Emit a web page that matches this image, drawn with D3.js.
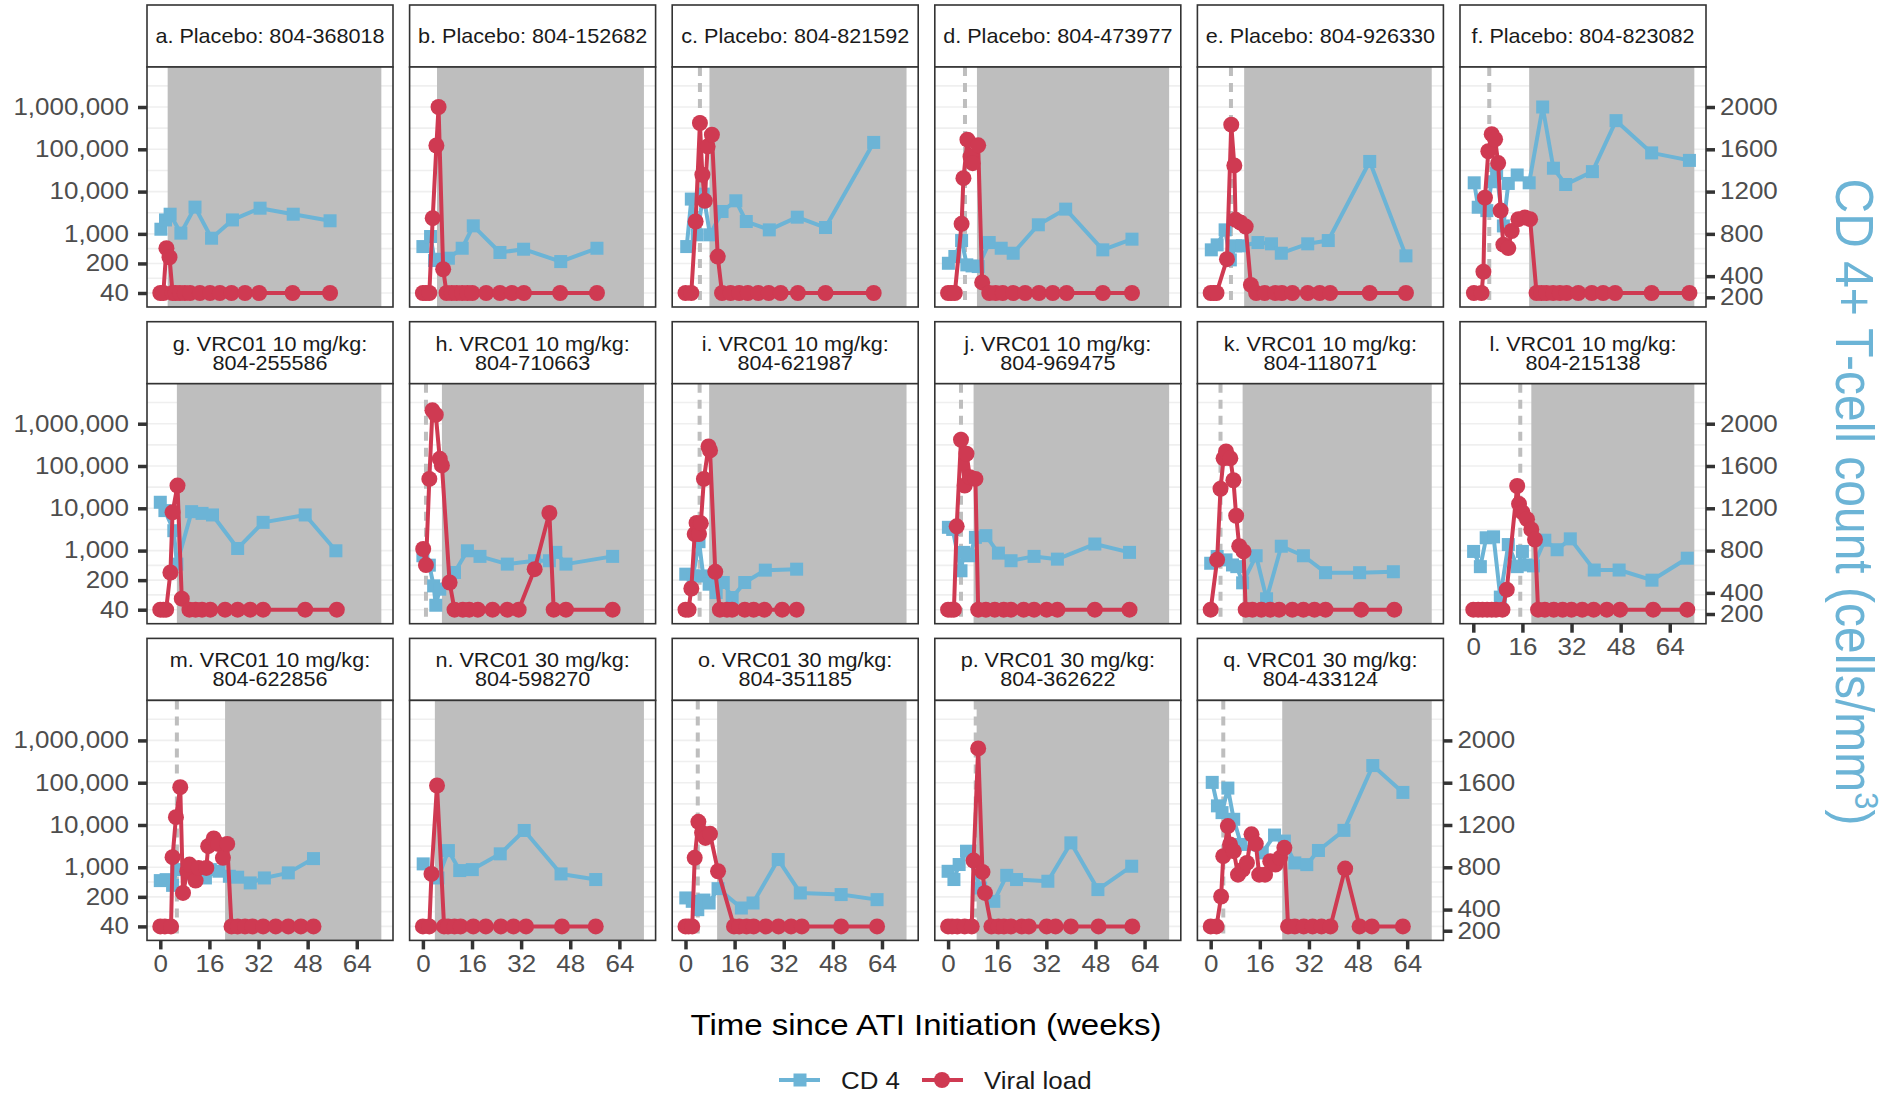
<!DOCTYPE html>
<html>
<head>
<meta charset="utf-8">
<script src="https://cdn.jsdelivr.net/npm/d3@7"></script>
<style>
  body { margin: 0; background: #fff; }
  svg { display: block; font-family: "Liberation Sans", Arial, Helvetica, sans-serif; }
</style>
</head>
<body>
<svg id="chart" width="1885" height="1093"></svg>
<script>
// ---- data (weeks, value) ----
const panelTitles = [
  ["a. Placebo: 804-368018"], ["b. Placebo: 804-152682"], ["c. Placebo: 804-821592"],
  ["d. Placebo: 804-473977"], ["e. Placebo: 804-926330"], ["f. Placebo: 804-823082"],
  ["g. VRC01 10 mg/kg:", "804-255586"], ["h. VRC01 10 mg/kg:", "804-710663"],
  ["i. VRC01 10 mg/kg:", "804-621987"], ["j. VRC01 10 mg/kg:", "804-969475"],
  ["k. VRC01 10 mg/kg:", "804-118071"], ["l. VRC01 10 mg/kg:", "804-215138"],
  ["m. VRC01 10 mg/kg:", "804-622856"], ["n. VRC01 30 mg/kg:", "804-598270"],
  ["o. VRC01 30 mg/kg:", "804-351185"], ["p. VRC01 30 mg/kg:", "804-362622"],
  ["q. VRC01 30 mg/kg:", "804-433124"]
];
// start of the shaded period (weeks); it ends at week 72
const grayStart = [2.4, 4.6, 7.8, 9.4, 10.9, 18.2, 5.4, 6.2, 7.7, 8.3, 10.4, 18.9, 21.1, 3.9, 10.3, 9.3, 23.3];
const grayEnd = 72;
// dashed reference line (weeks), null where it is hidden
const dashedAt = [null, null, 4.7, 5.5, 6.6, 5.2, null, 1.0, 4.6, 4.2, 3.2, 15.3, 5.4, null, 4.0, 9.0, 4.1];

const vlTicks = [40, 200, 1000, 10000, 100000, 1000000];
const cd4Ticks = [200, 400, 800, 1200, 1600, 2000];
const weekTicks = [0, 16, 32, 48, 64];

const vl_a = [[0,40],[1,40],[2,460],[3,280],[4,40],[5,40],[6.4,40],[8,40],[9.7,40],[12.9,40],[16.2,40],[19.4,40],[23.2,40],[27.6,40],[32.2,40],[43.1,40],[55.3,40]];
const cd4_a = [[0.2,844],[1.7,932],[3.2,986],[6.7,807],[11.3,1053],[16.7,759],[23.5,932],[32.5,1043],[43.3,986],[55.3,924]];

const vl_b = [[0,40],[1,40],[2.1,40],[3.2,2350],[4.4,123000],[5.1,1000000],[6.6,146],[7.7,40],[9.4,40],[11,40],[12.8,40],[14.5,40],[16.1,40],[20.6,40],[25.1,40],[29,40],[32.9,40],[44.7,40],[56.7,40]];
const cd4_b = [[0,680],[2.5,775],[3.8,548],[6.1,560],[8.3,570],[12.8,664],[16.4,876],[25.1,624],[32.8,655],[44.9,538],[56.7,664]];

const vl_c = [[0,40],[1.9,40],[3.3,1960],[4.7,418000],[5.5,25000],[6.3,6050],[7.2,117000],[8.6,221000],[10.5,291],[11.9,40],[14.7,40],[17.5,40],[20.3,40],[23.7,40],[27.1,40],[31,40],[36.6,40],[45.6,40],[61.3,40]];
const cd4_c = [[0.4,680],[1.9,1129],[3.8,791],[5.8,1176],[8,791],[11.9,1012],[16.4,1113],[19.8,917],[27.3,838],[36.4,958],[45.6,860],[61.3,1665]];

const vl_d = [[0,40],[1,40],[2.2,40],[4.4,1730],[5,20800],[6.3,169000],[7.3,67000],[8,47000],[9.8,124000],[11.1,71],[13.4,40],[15.5,40],[17.8,40],[21.2,40],[25.1,40],[29.6,40],[34.1,40],[38.6,40],[50.4,40],[59.9,40]];
const cd4_d = [[0.1,522],[2.2,586],[4.4,737],[6.1,507],[7.8,497],[9.8,491],[13.4,718],[17.3,664],[21.2,617],[29.4,886],[38.3,1034],[50.4,649],[59.9,750]];

const vl_e = [[0,40],[1,40],[1.9,40],[5.3,252],[6.7,382000],[7.7,41600],[8.1,2150],[9.7,1860],[11.4,1490],[13.1,62],[14.8,40],[17.6,40],[21,40],[23.2,40],[26.6,40],[31.6,40],[35.5,40],[38.9,40],[51.8,40],[63.6,40]];
const cd4_e = [[0.2,649],[2.1,696],[4.7,838],[6.4,554],[8.1,687],[10.3,687],[15.4,718],[19.8,706],[23,617],[31.6,706],[38.3,737],[51.8,1485],[63.6,592]];

const vl_f = [[0.2,40],[2.7,40],[3.3,127],[3.8,7170],[4.9,90000],[6,228000],[7.1,173000],[8.1,47300],[8.9,3550],[9.8,556],[11.4,462],[12.5,1170],[14.7,2230],[16.8,2450],[18.5,2230],[20.6,40],[22.2,40],[23.8,40],[26,40],[28.2,40],[30.4,40],[34.2,40],[38.6,40],[42.3,40],[46.2,40],[58.1,40],[70.4,40]];
const cd4_f = [[0.3,1283],[1.6,1052],[4.4,1020],[6,1293],[7.6,1373],[9.8,875],[11.4,1277],[14.3,1357],[18.2,1283],[22.6,2000],[26.1,1421],[30.1,1267],[38.8,1389],[46.5,1871],[58.1,1566],[70.4,1495]];

const vl_g = [[0,40],[1,40],[1.9,40],[3.3,303],[4,8030],[5.6,34500],[7,73],[9.5,40],[11.5,40],[13.6,40],[16.3,40],[21.1,40],[25.2,40],[29.3,40],[33.5,40],[47.2,40],[57.5,40]];
const cd4_g = [[0,1257],[1.5,1178],[4.4,988],[5.4,672],[10.2,1168],[13.6,1152],[17,1137],[25.2,820],[33.5,1067],[47.2,1137],[57.2,798]];

const vl_h = [[0.1,1090],[1,453],[2.1,49600],[3.1,2070000],[4.2,1630000],[5.5,148000],[6.2,103000],[8.7,176],[10.3,40],[13,40],[15.1,40],[17.9,40],[22.7,40],[27.5,40],[31.2,40],[36.4,364],[41.2,7740],[42.6,40],[46.6,40],[61.8,40]];
const cd4_h = [[0,751],[2.1,662],[3.5,466],[4.2,283],[5.5,435],[10.3,593],[14.5,798],[18.6,745],[27.5,672],[36.4,704],[41.2,704],[43.3,783],[46.6,672],[61.8,745]];

const vl_i = [[0,40],[1,40],[1.9,127],[3,2460],[3.6,4490],[4.4,2460],[5,4400],[6,49600],[7.5,290000],[8,233000],[9.7,315],[11.2,40],[13.5,40],[15.2,40],[19.3,40],[22.2,40],[25.7,40],[31.5,40],[36.2,40]];
const cd4_i = [[0.1,577],[2.5,561],[4.4,884],[5.8,560],[7.7,482],[10,403],[12.3,498],[15.2,356],[19.3,498],[26,615],[36.2,624]];

const vl_j = [[0,40],[1,40],[1.9,40],[2.8,3740],[4.2,417000],[5.4,34500],[6,195000],[7.1,54300],[8.9,49600],[9.8,40],[12.3,40],[15.2,40],[18.1,40],[20.5,40],[24.6,40],[28,40],[32.1,40],[35.6,40],[47.8,40],[59.1,40]];
const cd4_j = [[0.1,1020],[1.5,1000],[4.2,609],[5.1,783],[7.1,751],[8.9,925],[12.3,941],[16.4,776],[20.5,704],[28,745],[35.6,719],[47.8,862],[59.1,783]];

const vl_k = [[0,40],[2.1,603],[3.2,29000],[4.2,152000],[5,220000],[6.4,152000],[7.4,46000],[8.3,6650],[9.3,1270],[10.7,955],[11.4,40],[13.6,40],[16.5,40],[19.4,40],[22.3,40],[26.6,40],[30.2,40],[33.8,40],[37.4,40],[49,40],[59.8,40]];
const cd4_k = [[0,680],[2.1,744],[5,712],[7.1,664],[8.5,648],[10.4,495],[14.8,751],[18.2,344],[23,841],[30.2,751],[37.4,591],[48.5,591],[59.5,600]];

const vl_l = [[0,40],[1.6,40],[3,40],[4.5,40],[6,40],[7.4,40],[9.5,40],[10.9,119],[14.3,33600],[14.9,12700],[16,7980],[17.5,5530],[18.9,3170],[20.1,1830],[21.1,40],[23.3,40],[26.2,40],[29.1,40],[32,40],[35.5,40],[39.2,40],[43.5,40],[47.8,40],[58.6,40],[69.7,40]];
const cd4_l = [[0.1,792],[2.3,648],[4.2,921],[6.6,930],[8.8,360],[11.4,857],[14.3,648],[16,792],[17.2,664],[19.6,655],[23.3,898],[27.3,808],[31.6,911],[39.4,616],[47.5,616],[58.2,520],[69.7,728]];

const vl_m = [[0,40],[1.5,40],[3.5,40],[4,1730],[5.1,15300],[6.5,78500],[7.4,247],[8.8,805],[9.5,1160],[11.5,484],[12.5,966],[15,966],[15.6,3150],[17.4,4790],[18.8,3570],[20.4,1670],[21.8,3570],[23.2,40],[25.2,40],[27.6,40],[30,40],[33.5,40],[37.6,40],[41.7,40],[45.8,40],[49.9,40]];
const cd4_m = [[0,674],[1.9,683],[4,629],[5.4,778],[10,740],[14.7,699],[16.3,778],[19.1,763],[22.5,715],[25.2,706],[29.3,652],[33.9,699],[41.7,747],[49.9,882]];

const vl_n = [[0,40],[2.1,40],[2.8,697],[4.6,85900],[6.9,40],[8.2,40],[10.3,40],[12.3,40],[16.4,40],[20.5,40],[25.4,40],[29.5,40],[33.6,40],[45.3,40],[56.3,40]];
const cd4_n = [[0.1,832],[4.9,699],[8.3,958],[12,769],[16.1,778],[25.2,927],[33,1148],[45,737],[56.3,684]];

const vl_o = [[0,40],[1,40],[2.2,40],[3,1670],[4.2,11900],[5.4,6510],[6.5,4950],[8,6170],[10.6,805],[15.8,40],[17.5,40],[19.9,40],[22.2,40],[26.2,40],[30.3,40],[34.4,40],[37.9,40],[50.7,40],[62.4,40]];
const cd4_o = [[0.1,510],[2.2,478],[4,399],[6,490],[7.7,462],[10.6,598],[18.2,415],[22,462],[30.2,873],[37.4,557],[50.7,542],[62.4,494]];

const vl_p = [[0,40],[1.3,40],[3,40],[5.4,40],[7.7,40],[8.3,1440],[9.8,647000],[11.2,777],[12,247],[14.1,40],[16.4,40],[18.2,40],[20.5,40],[24,40],[26.3,40],[32.1,40],[35,40],[40,40],[49,40],[60,40]];
const cd4_p = [[0,762],[1.9,684],[3.6,826],[6,952],[10.6,604],[14.9,478],[19.1,724],[22.3,684],[32.5,668],[40,1031],[48.8,589],[59.8,810]];

const vl_q = [[0,40],[1.9,40],[3.4,204],[4.1,1830],[5.6,9440],[6.3,3470],[7.5,2400],[8.9,668],[10.4,880],[11.8,1270],[13.3,6000],[14.7,3590],[15.8,668],[17.7,668],[19.4,1390],[21.1,1160],[22.6,1670],[24,2880],[25.2,40],[27.4,40],[30.3,40],[33.2,40],[36.1,40],[39,40],[43.8,930],[48.5,40],[52.5,40],[62.6,40]];
const cd4_q = [[0.5,1603],[2.2,1381],[3.7,1317],[5.6,1549],[7.5,1254],[9.9,1016],[16.8,936],[20.8,1105],[24,1048],[27.4,841],[31.3,825],[35.1,959],[43.4,1149],[52.8,1762],[62.6,1508]];

const vlSeries = [vl_a, vl_b, vl_c, vl_d, vl_e, vl_f, vl_g, vl_h, vl_i, vl_j, vl_k, vl_l, vl_m, vl_n, vl_o, vl_p, vl_q];
const cd4Series = [cd4_a, cd4_b, cd4_c, cd4_d, cd4_e, cd4_f, cd4_g, cd4_h, cd4_i, cd4_j, cd4_k, cd4_l, cd4_m, cd4_n, cd4_o, cd4_p, cd4_q];

// ---- layout ----
const panelW = 246, plotH = 240, stripH = 62;
const colStep = 262.6, rowStep = 316.7;
const left0 = 147, top0 = 67;
const blue = "#6cb4d6", red = "#cf3a52";
const tickColor = "#333333", labelColor = "#4d4d4d";

const x = d3.scaleLinear().domain([-4.33, 75.8]).range([0, panelW]);
const yVL = d3.scaleLog().domain([Math.pow(10, 1.271), Math.pow(10, 6.946)]).range([plotH, 0]);
const yCD4 = d3.scaleLinear().domain([108.4, 2378.4]).range([plotH, 0]);

const svg = d3.select("#chart");
svg.append("rect").attr("width", 1885).attr("height", 1093).attr("fill", "#fff");

// widen text a little, keeping its anchor point fixed
function stretch(sel, k) {
  sel.each(function () {
    const t = d3.select(this);
    const tx = +t.attr("x") || 0, ty = +t.attr("y") || 0;
    t.attr("transform", `translate(${tx},${ty}) scale(${k},1) translate(${-tx},${-ty})`);
  });
}

function styleAxis(g) {
  g.select(".domain").remove();
  g.selectAll(".tick line").attr("stroke", tickColor).attr("stroke-width", 3.5);
  g.selectAll(".tick text")
    .attr("fill", labelColor)
    .style("font-size", "23px")
    .style("font-family", '"Liberation Sans", Arial, sans-serif');
  stretch(g.selectAll(".tick text"), 1.13);
}

// minor grid lines half way (in log space) between the major ticks
const gridVals = [];
vlTicks.forEach((t, i) => {
  gridVals.push(t);
  if (i < vlTicks.length - 1) gridVals.push(Math.sqrt(t * vlTicks[i + 1]));
});
gridVals.push(Math.pow(10, 6.5));

const vlLine = d3.line().x(d => x(d[0])).y(d => yVL(d[1]));
const cd4Line = d3.line().x(d => x(d[0])).y(d => yCD4(d[1]));

panelTitles.forEach((title, i) => {
  const col = i % 6, row = Math.floor(i / 6);
  const px = left0 + col * colStep, py = top0 + row * rowStep;

  // strip
  const strip = svg.append("g").attr("transform", `translate(${px},${py - stripH})`);
  strip.append("rect").attr("width", panelW).attr("height", stripH)
    .attr("fill", "#fff").attr("stroke", tickColor).attr("stroke-width", 1.6);
  const base = title.length === 1 ? [stripH / 2 + 7.5] : [stripH / 2 - 2, stripH / 2 + 17];
  title.forEach((line, j) => {
    strip.append("text").attr("x", panelW / 2).attr("y", base[j])
      .attr("text-anchor", "middle").attr("fill", "#1a1a1a")
      .style("font-size", "20px").text(line);
  });
  stretch(strip.selectAll("text"), 1.08);

  const g = svg.append("g").attr("transform", `translate(${px},${py})`);
  g.append("rect").attr("width", panelW).attr("height", plotH).attr("fill", "#fff");

  g.selectAll("line.grid").data(gridVals).join("line").attr("class", "grid")
    .attr("x1", 0).attr("x2", panelW)
    .attr("y1", d => yVL(d)).attr("y2", d => yVL(d))
    .attr("stroke", "#efefef").attr("stroke-width", 1.6);

  if (dashedAt[i] !== null) {
    g.append("line").attr("x1", x(dashedAt[i])).attr("x2", x(dashedAt[i]))
      .attr("y1", 0).attr("y2", plotH)
      .attr("stroke", "#bebebe").attr("stroke-width", 4).attr("stroke-dasharray", "9,7");
  }

  g.append("rect").attr("x", x(grayStart[i])).attr("y", 0)
    .attr("width", x(grayEnd) - x(grayStart[i])).attr("height", plotH)
    .attr("fill", "#bebebe");

  // CD4 series
  g.append("path").datum(cd4Series[i]).attr("d", cd4Line)
    .attr("fill", "none").attr("stroke", blue).attr("stroke-width", 4).attr("stroke-linejoin", "round");
  g.selectAll("rect.cd4").data(cd4Series[i]).join("rect").attr("class", "cd4")
    .attr("x", d => x(d[0]) - 6.5).attr("y", d => yCD4(d[1]) - 6.5)
    .attr("width", 13).attr("height", 13).attr("fill", blue);

  // viral load series
  g.append("path").datum(vlSeries[i]).attr("d", vlLine)
    .attr("fill", "none").attr("stroke", red).attr("stroke-width", 4).attr("stroke-linejoin", "round");
  g.selectAll("circle.vl").data(vlSeries[i]).join("circle").attr("class", "vl")
    .attr("cx", d => x(d[0])).attr("cy", d => yVL(d[1])).attr("r", 8).attr("fill", red);

  g.append("rect").attr("width", panelW).attr("height", plotH)
    .attr("fill", "none").attr("stroke", tickColor).attr("stroke-width", 1.6);

  if (col === 0) {
    g.append("g")
      .call(d3.axisLeft(yVL).tickValues(vlTicks).tickFormat(d3.format(",")).tickSize(9).tickPadding(9))
      .call(styleAxis);
  }
  if (col === 5 || i === panelTitles.length - 1) {
    g.append("g").attr("transform", `translate(${panelW},0)`)
      .call(d3.axisRight(yCD4).tickValues(cd4Ticks).tickFormat(d3.format("d")).tickSize(9).tickPadding(5))
      .call(styleAxis);
  }
  if (row === 2 || i === 11) {
    g.append("g").attr("transform", `translate(0,${plotH})`)
      .call(d3.axisBottom(x).tickValues(weekTicks).tickSize(9).tickPadding(6))
      .call(styleAxis);
  }
});

// x axis title
const xt = svg.append("text").attr("x", 926).attr("y", 1035).attr("text-anchor", "middle")
  .attr("fill", "#000").style("font-size", "30px").text("Time since ATI Initiation (weeks)");
stretch(xt, 1.1);

// secondary axis title
const rt = svg.append("text")
  .attr("transform", "translate(1836,502) rotate(90) scale(1,1.1)")
  .attr("text-anchor", "middle").attr("fill", blue).style("font-size", "48px");
rt.append("tspan").text("CD 4+ T-cell count (cells/mm");
rt.append("tspan").attr("dy", -17).style("font-size", "31px").text("3");
rt.append("tspan").attr("dy", 17).text(")");

// legend
const legendKeys = ["CD 4", "Viral load"];
const legendColors = [blue, red];
const legendX = [779, 922];
const lg = svg.append("g").attr("transform", "translate(0,1080)");
legendKeys.forEach((k, j) => {
  const lx = legendX[j];
  lg.append("line").attr("x1", lx).attr("x2", lx + 41).attr("y1", 0).attr("y2", 0)
    .attr("stroke", legendColors[j]).attr("stroke-width", 4);
  if (j === 0) {
    lg.append("rect").attr("x", lx + 21 - 6.5).attr("y", -6.5).attr("width", 13).attr("height", 13).attr("fill", blue);
  } else {
    lg.append("circle").attr("cx", lx + 20).attr("cy", 0).attr("r", 8).attr("fill", red);
  }
  const t = lg.append("text").attr("x", lx + 62).attr("y", 8.5)
    .attr("fill", "#1a1a1a").style("font-size", "24px").text(k);
  stretch(t, 1.08);
});
</script>
</body>
</html>
